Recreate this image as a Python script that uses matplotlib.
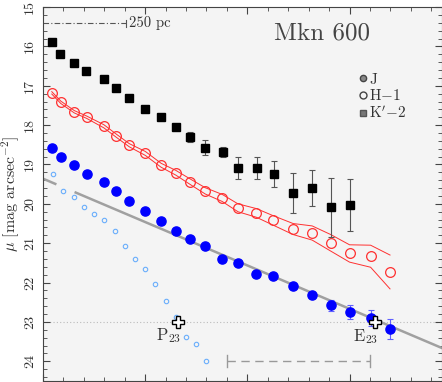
import numpy as np
import matplotlib
matplotlib.use('Agg')
from matplotlib import pyplot as plt
from matplotlib.lines import Line2D
from matplotlib.ticker import MultipleLocator

plt.rcParams['font.family'] = ['cmr10', 'DejaVu Serif']
plt.rcParams['mathtext.fontset'] = 'cm'
plt.rcParams['axes.unicode_minus'] = False

# K'-2 profile (black squares)
r_k = [0.43, 0.85, 1.53, 2.12, 2.98, 3.59, 4.22, 5.01, 5.78, 6.50, 7.21, 7.94,
       8.81, 9.54, 10.47, 11.29, 12.24, 13.17, 14.08, 15.0]
mu_k = [15.88, 16.20, 16.41, 16.63, 16.83, 17.05, 17.32, 17.60, 17.80, 18.04, 18.31, 18.58,
        18.68, 19.08, 19.10, 19.25, 19.72, 19.59, 20.09, 20.03]
err_k = [0.01, 0.01, 0.01, 0.01, 0.01, 0.02, 0.02, 0.03, 0.04, 0.08, 0.13, 0.19,
         0.13, 0.28, 0.28, 0.33, 0.51, 0.46, 0.74, 0.66]

# H-1 and J profiles share radii
r_hj = [0.43, 0.87, 1.53, 2.14, 2.98, 3.59, 4.22, 5.01, 5.78, 6.50, 7.21, 7.94,
        8.77, 9.54, 10.44, 11.26, 12.24, 13.17, 14.08, 15.0, 16.03, 16.98]
mu_h = [17.18, 17.42, 17.66, 17.80, 18.03, 18.27, 18.51, 18.72, 19.02, 19.21, 19.44, 19.67,
        19.85, 20.10, 20.23, 20.42, 20.64, 20.74, 20.99, 21.26, 21.33, 21.73]
band_h = [0.03, 0.03, 0.03, 0.03, 0.04, 0.04, 0.04, 0.05, 0.05, 0.06, 0.07, 0.08,
          0.09, 0.10, 0.11, 0.12, 0.14, 0.18, 0.21, 0.22, 0.28, 0.43]
mu_j = [18.57, 18.82, 19.02, 19.23, 19.44, 19.67, 19.93, 20.19, 20.44, 20.68, 20.89, 21.06,
        21.40, 21.50, 21.77, 21.82, 22.09, 22.32, 22.58, 22.75, 22.89, 23.18]
err_j = [0.02, 0.02, 0.02, 0.02, 0.02, 0.02, 0.02, 0.02, 0.02, 0.02, 0.02, 0.02,
         0.02, 0.02, 0.02, 0.02, 0.05, 0.08, 0.15, 0.17, 0.20, 0.25]

# bulge component (small open circles)
r_b = [0.5, 1.0, 1.5, 2.0, 2.5, 3.0, 3.5, 4.0, 4.5, 5.0, 5.5, 6.0, 6.5, 7.0, 7.5, 8.0]
mu_b = [19.25, 19.67, 19.82, 20.09, 20.27, 20.42, 20.70, 21.08, 21.40, 21.65, 22.04, 22.46,
        22.88, 23.38, 23.55, 24.00]

# exponential disk fit
disk_mu0 = 19.36
disk_slope = 0.2204
disk_r1 = [0.0, 0.6]
disk_r2 = [1.6, 19.5]

mu_iso = 23.0
r_p23 = 6.63
r_e23 = 16.24
scale_r = 4.07      # 250 pc
fit_range = [9.0, 16.0]

fig = plt.figure(figsize=(4.42, 3.82), dpi=100)
ax = fig.add_axes([0.0973, 0.0026, 0.9016, 0.979])
ax.set_facecolor('#f4f4f4')

ax.axhline(mu_iso, color='#bbbbbb', lw=0.8, ls=(0, (1, 2)), zorder=1)

for rr in (disk_r1, disk_r2):
    rr = np.array(rr)
    ax.plot(rr, disk_mu0 + disk_slope * rr, color='#a0a0a0', lw=1.8, zorder=2)

ax.plot(r_b, mu_b, 'o', ms=3.2, mfc='none', mec='#6aaefc', mew=0.8, zorder=3)

mu_h = np.array(mu_h)
band_h = np.array(band_h)
ax.plot(r_hj, mu_h - band_h, color='#ff3030', lw=0.7, zorder=3)
ax.plot(r_hj, mu_h + band_h, color='#ff3030', lw=0.7, zorder=3)
ax.plot(r_hj, mu_h, 'o', ms=7, mfc='none', mec='#ff3030', mew=0.9, zorder=4)

ax.errorbar(r_k, mu_k, yerr=err_k, fmt='s', ms=5.4, color='black', ecolor='#555555',
            elinewidth=0.8, capsize=2.5, capthick=0.8, zorder=4)
ax.errorbar(r_hj, mu_j, yerr=err_j, fmt='o', ms=6.6, color='#0000ff', ecolor='#6060ff',
            elinewidth=0.8, capsize=2.5, capthick=0.8, zorder=4)

ax.plot([r_p23, r_e23], [mu_iso, mu_iso], 'P', ms=8, mfc='white', mec='black', mew=1.0, zorder=6)
ax.annotate(r'$\mathrm{P}_{23}$', (r_p23, mu_iso), xytext=(2, -3), textcoords='offset points',
            ha='right', va='top', fontsize=12, color='#333333')
ax.annotate(r'$\mathrm{E}_{23}$', (r_e23, mu_iso), xytext=(2, -4), textcoords='offset points',
            ha='right', va='top', fontsize=12, color='#333333')

# 250 pc scale bar
ax.plot([0, scale_r], [15.41, 15.41], color='#555555', lw=0.8, ls=(0, (5, 2, 1, 2)))
ax.plot([scale_r, scale_r], [15.32, 15.50], color='#555555', lw=0.8)
ax.text(scale_r + 0.12, 15.41, '250 pc', fontsize=10.5, va='center', ha='left', color='#333333')

# fit range bar
ax.plot(fit_range, [24.0, 24.0], color='#999999', lw=1.0, ls=(0, (6, 4)))
for fr in fit_range:
    ax.plot([fr, fr], [23.85, 24.15], color='#999999', lw=1.0)

ax.text(0.70, 0.93, 'Mkn 600', transform=ax.transAxes, fontsize=18, ha='center', va='center',
        color='#444444')

handles = [Line2D([], [], ls='none', marker='o', ms=4.5, mfc='#888888', mec='#444444'),
           Line2D([], [], ls='none', marker='o', ms=5, mfc='none', mec='#444444'),
           Line2D([], [], ls='none', marker='s', ms=4.5, mfc='#777777', mec='#555555')]
labels = ['J', r'H$-$1', r"K$'$$-$2"]
ax.legend(handles, labels, loc='upper left', bbox_to_anchor=(0.775, 0.84), frameon=False,
          fontsize=11, handlelength=0.6, handletextpad=0.15, labelspacing=0.1,
          borderaxespad=0, labelcolor='#333333')

ax.set_xlim(0, 19.5)
ax.set_ylim(24.5, 15)
ax.xaxis.set_major_locator(MultipleLocator(5))
ax.xaxis.set_minor_locator(MultipleLocator(1))
ax.yaxis.set_major_locator(MultipleLocator(1))
ax.yaxis.set_minor_locator(MultipleLocator(0.2))
ax.tick_params(which='both', direction='in', top=True, right=True, labelbottom=False,
               color='#444444')
ax.tick_params(which='major', length=5)
ax.tick_params(which='minor', length=2.8)
ax.tick_params(axis='y', labelsize=10, pad=5, labelcolor='#333333')
plt.setp(ax.get_yticklabels(), rotation=90, va='center')
for s in ax.spines.values():
    s.set_color('#444444')
    s.set_linewidth(0.8)

ax.set_ylabel(r'$\mu$ [mag arcsec$^{-2}$]', fontsize=11.5, color='#333333', va='center')
ax.yaxis.set_label_coords(-0.08, 0.5)

fig.savefig('out.png', dpi=100)
